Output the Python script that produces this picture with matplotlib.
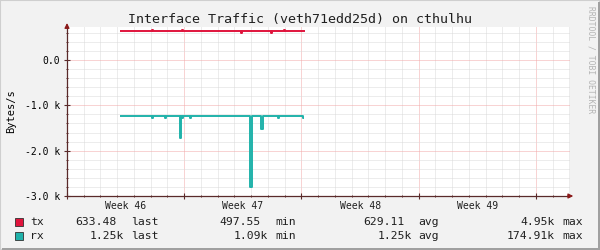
import matplotlib
matplotlib.use("Agg")
import matplotlib.pyplot as plt
from matplotlib.patches import Rectangle
from matplotlib.transforms import ScaledTranslation
import numpy as np

# 数据（单位：天 / Bytes/s）
WEEK_LABELS = ["Week 46", "Week 47", "Week 48", "Week 49"]
Y_TICKS = [0, -1000, -2000, -3000]
Y_TICK_LABELS = ["0.0", "-1.0 k", "-2.0 k", "-3.0 k"]

tx_days = [3.16, 5.10, 5.16, 6.84, 6.90, 10.41, 10.47, 12.15, 12.21, 12.93, 12.99, 14.22]
tx_vals = [635, 665, 635, 665, 635, 605, 635, 605, 635, 665, 635, 635]

rx_days = [3.16, 5.05, 5.11, 5.85, 5.91, 6.72, 6.82, 6.86, 6.92, 7.32, 7.38,
           10.94, 11.04, 11.60, 11.70, 12.58, 12.64, 14.10, 14.16]
rx_vals = [-1245, -1275, -1245, -1275, -1245, -1720, -1245, -1285, -1245, -1275, -1245,
           -2800, -1245, -1520, -1245, -1275, -1245, -1270, -1270]

legend_names = ["tx", "rx"]
tx_stats = ["633.48", "497.55", "629.11", "4.95k"]
rx_stats = ["1.25k", "1.09k", "1.25k", "174.91k"]
stat_names = ["last", "min", "avg", "max"]

TX_COLOR = "#e0143c"
RX_COLOR = "#20b2aa"
MONO = "DejaVu Sans Mono"
W, H = 600, 250

fig = plt.figure(figsize=(6, 2.5), dpi=100, facecolor="#f2f2f2")
# 外框
fig.patches.append(Rectangle((0, 0), 1, 1, transform=fig.transFigure, fill=False,
                             edgecolor="#cfcfcf", linewidth=1.5))
fig.patches.append(Rectangle((2 / W, 0), 1 - 2 / W, 2.5 / H, transform=fig.transFigure,
                             color="#a0a0a0", linewidth=0))
fig.patches.append(Rectangle((1 - 2.5 / W, 0), 2.5 / W, 1 - 2 / H, transform=fig.transFigure,
                             color="#a0a0a0", linewidth=0))

ax = fig.add_axes([67 / W, 54 / H, 503 / W, 169 / H])
ax.set_facecolor("white")
ax.set_xlim(0, 30.03)
ax.set_ylim(-3000, 728)

# 网格
for d in range(1, 31):
    c = "#f2a8a8" if d % 7 == 0 else "#dadada"
    ax.axvline(d, color=c, lw=0.72, ls=(0, (1, 1)), zorder=1)
for v in np.arange(-2800, 728, 200):
    c = "#f2a8a8" if round(v) % 1000 == 0 else "#dadada"
    ax.axhline(v, color=c, lw=0.72, ls=(0, (1, 1)), zorder=1)

ax.plot(tx_days, tx_vals, drawstyle="steps-post", color=TX_COLOR, lw=1.4, zorder=3,
        solid_capstyle="butt")
ax.plot(rx_days, rx_vals, drawstyle="steps-post", color=RX_COLOR, lw=1.4, zorder=3,
        solid_capstyle="butt")

# 坐标轴
for s in ["top", "right"]:
    ax.spines[s].set_visible(False)
for s in ["left", "bottom"]:
    ax.spines[s].set_color("#5a2a2a")
    ax.spines[s].set_linewidth(0.9)
ax.annotate("", xy=(0, 1.04), xytext=(0, 0.99), xycoords="axes fraction",
            arrowprops=dict(arrowstyle="-|>", color="#8b1a1a", lw=0.9, mutation_scale=7),
            annotation_clip=False)
ax.annotate("", xy=(1.012, 0), xytext=(0.99, 0), xycoords="axes fraction",
            arrowprops=dict(arrowstyle="-|>", color="#8b1a1a", lw=0.9, mutation_scale=7),
            annotation_clip=False)

ax.set_yticks(Y_TICKS)
ax.set_yticklabels(Y_TICK_LABELS, family=MONO, fontsize=7)
ax.set_yticks(np.arange(-2800, 728, 200), minor=True)
ax.set_xticks([0, 7, 14, 21, 28])
ax.set_xticklabels([])
ax.set_xticks(range(1, 31), minor=True)
ax.tick_params(axis="both", which="major", direction="inout", length=4, width=0.8,
               color="#5a2a2a", pad=3)
ax.tick_params(axis="both", which="minor", direction="inout", length=2, width=0.7,
               color="#5a2a2a")
week_tr = ax.transData + ScaledTranslation(0, -5 / 100, fig.dpi_scale_trans)
for i, lab in enumerate(WEEK_LABELS):
    ax.text(3.5 + 7 * i, -3000, lab, family=MONO, fontsize=7, ha="center", va="top",
            transform=week_tr, color="#202020")

ax.set_ylabel("Bytes/s", family=MONO, fontsize=7.5)
ax.yaxis.set_label_coords(-51 / 503, 0.5)

fig.text(0.5, 1 - 19 / H, "Interface Traffic (veth71edd25d) on cthulhu", family=MONO,
         fontsize=9.6, ha="center", va="center", color="#202020")
fig.text(591 / W, 1 - 6 / H, "RRDTOOL / TOBI OETIKER", family=MONO, fontsize=5.8,
         rotation=270, ha="center", va="top", color="#b4b4b4")

# 图例
rows_y = [222, 236]
colors = [TX_COLOR, RX_COLOR]
value_right = [[117, 261, 405, 555], [124, 268, 412, 555]]
name_left = [131, 275, 418, 562]
for r, (name, stats) in enumerate(zip(legend_names, [tx_stats, rx_stats])):
    yy = 1 - rows_y[r] / H
    fig.patches.append(Rectangle((15 / W, yy - 4 / H), 8 / W, 8 / H, transform=fig.transFigure,
                                 facecolor=colors[r], edgecolor="#303030", linewidth=0.6))
    fig.text(30 / W, yy, name, family=MONO, fontsize=8.2, ha="left", va="center", color="#202020")
    for j, sv in enumerate(stats):
        fig.text(value_right[r][j] / W, yy, sv, family=MONO, fontsize=8.2, ha="right",
                 va="center", color="#202020")
        fig.text(name_left[j] / W, yy, stat_names[j], family=MONO, fontsize=8.2, ha="left",
                 va="center", color="#202020")

fig.savefig("out.png", dpi=100, facecolor=fig.get_facecolor())
